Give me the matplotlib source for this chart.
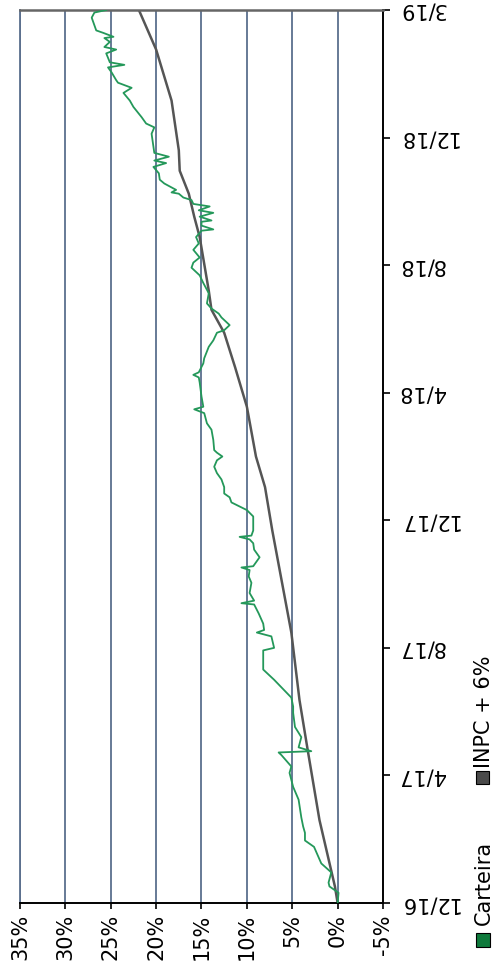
import matplotlib
matplotlib.use("Agg")
import matplotlib.pyplot as plt
from matplotlib.patches import Rectangle

# date ticks (evenly spaced on the chart)
date_labels = ['12/16', '4/17', '8/17', '12/17', '4/18', '8/18', '12/18', '3/19']
pct_ticks = [35, 30, 25, 20, 15, 10, 5, 0, -5]

# Carteira: position along the date axis (tick units) and return in %
cart_pos = [0.00, 0.08, 0.13, 0.16, 0.24, 0.31, 0.44, 0.49, 0.55, 0.60,
            0.67, 0.81, 0.91, 1.02, 1.07, 1.16, 1.18, 1.19, 1.22, 1.30,
            1.38, 1.49, 1.54, 1.61, 1.75, 1.83, 1.90, 1.98, 2.00, 2.09,
            2.12, 2.14, 2.19, 2.27, 2.34, 2.35, 2.37, 2.43, 2.51, 2.56,
            2.61, 2.63, 2.64, 2.71, 2.77, 2.82, 2.85, 2.87, 2.88, 2.92,
            3.03, 3.08, 3.14, 3.18, 3.21, 3.26, 3.32, 3.37, 3.42, 3.47,
            3.50, 3.53, 3.55, 3.63, 3.71, 3.76, 3.84, 3.87, 3.89, 3.97,
            4.08, 4.12, 4.14, 4.16, 4.23, 4.27, 4.36, 4.41, 4.47, 4.49,
            4.53, 4.59, 4.62, 4.66, 4.70, 4.78, 4.86, 4.92, 4.98, 5.02,
            5.06, 5.12, 5.17, 5.22, 5.27, 5.28, 5.31, 5.34, 5.35, 5.38,
            5.41, 5.43, 5.46, 5.48, 5.51, 5.53, 5.56, 5.57, 5.59, 5.64,
            5.67, 5.72, 5.77, 5.80, 5.82, 5.85, 5.88, 5.93, 6.03, 6.08,
            6.11, 6.16, 6.24, 6.29, 6.35, 6.39, 6.43, 6.45, 6.51, 6.55,
            6.57, 6.59, 6.66, 6.69, 6.71, 6.75, 6.78, 6.79, 6.82, 6.84,
            6.90, 6.94, 6.98, 7.00]
cart_val = [0.0, -0.1, 0.9, 1.0, 0.7, 1.8, 2.6, 3.6, 3.6, 3.8,
            4.0, 4.3, 4.9, 5.3, 5.1, 6.2, 6.5, 2.9, 4.3, 4.0,
            4.7, 4.9, 4.9, 5.1, 7.0, 8.2, 8.2, 8.2, 7.0, 7.3,
            8.9, 8.1, 8.2, 8.7, 9.2, 10.6, 9.2, 9.7, 9.5, 9.8,
            9.7, 10.6, 9.3, 8.6, 9.2, 9.3, 9.7, 10.8, 9.5, 9.3,
            9.3, 10.0, 11.7, 11.9, 12.5, 12.5, 12.8, 13.3, 13.6, 13.3,
            12.7, 13.3, 13.6, 13.7, 13.9, 14.4, 14.7, 15.8, 14.8, 15.0,
            15.2, 15.3, 15.9, 15.3, 14.8, 14.7, 14.2, 13.7, 13.3, 12.5,
            11.9, 12.8, 13.1, 13.9, 14.4, 14.2, 14.8, 15.2, 16.1, 15.9,
            15.2, 15.9, 15.3, 15.6, 15.0, 13.7, 15.0, 15.0, 13.9, 15.2,
            13.7, 15.3, 14.1, 15.9, 16.1, 17.0, 17.5, 18.3, 17.8, 19.1,
            19.6, 19.7, 20.3, 18.9, 20.2, 18.6, 20.2, 20.3, 20.5, 20.2,
            21.1, 21.6, 22.5, 22.9, 23.6, 22.7, 24.2, 24.4, 24.9, 25.3,
            23.5, 25.1, 25.5, 24.4, 25.7, 25.1, 25.7, 24.7, 25.8, 26.6,
            26.9, 27.1, 26.8, 25.5]

# INPC + 6%
inpc_pos = [0.00, 0.13, 0.65, 1.20, 1.59, 2.12, 2.92, 3.26, 3.50, 3.89, 4.20,
            4.47, 4.65, 4.80, 5.22, 5.38, 5.56, 5.74, 5.90, 6.29, 6.69, 7.00]
inpc_val = [0.0, 0.3, 2.0, 3.3, 4.2, 5.1, 7.2, 8.0, 9.0, 10.0, 11.3,
            12.5, 13.9, 14.2, 15.2, 15.8, 16.4, 17.4, 17.5, 18.3, 20.0, 21.9]

W, H = 495, 975
fig = plt.figure(figsize=(W / 100, H / 100), dpi=100)
ax = fig.add_axes([20 / W, 1 - 903 / H, 363 / W, 893 / H])

grid_col = '#5b6f8e'
for v in pct_ticks[:-1]:
    ax.axvline(v, color=grid_col, lw=1.3, zorder=0)

ax.plot(inpc_val, inpc_pos, color='#555555', lw=1.8, zorder=2)
ax.plot(cart_val, cart_pos, color='#24985a', lw=1.3, zorder=3)

ax.set_xlim(35, -5)
ax.set_ylim(0, 7)
ax.set_xticks(pct_ticks)
ax.set_xticklabels([f'{v}%' for v in pct_ticks])
ax.set_yticks(range(len(date_labels)))
ax.set_yticklabels(date_labels)
ax.yaxis.tick_right()

ax.tick_params(axis='x', direction='out', length=4, width=1.2, pad=4,
               labelsize=15, labelrotation=90)
ax.tick_params(axis='y', direction='out', length=5, width=1.2, pad=6,
               labelsize=15, labelrotation=180)
for lab in ax.get_yticklabels():
    lab.set_va('center')

for s in ['bottom', 'right']:
    ax.spines[s].set_color('black')
    ax.spines[s].set_linewidth(1.4)
ax.spines['left'].set_color(grid_col)
ax.spines['left'].set_linewidth(1.3)
ax.spines['top'].set_color('#666666')
ax.spines['top'].set_linewidth(1.8)

# legend (rotated like the rest of the chart)
fig.add_artist(Rectangle((476 / W, 1 - 947 / H), 14 / W, 14 / H,
                         transform=fig.transFigure, fc='#0f7a3c', ec='black', lw=0.8))
fig.text(484 / W, 1 - 925 / H, 'Carteira', rotation=90, ha='center', va='bottom',
         fontsize=15)
fig.add_artist(Rectangle((476 / W, 1 - 784 / H), 13 / W, 13 / H,
                         transform=fig.transFigure, fc='#4a4a4a', ec='black', lw=0.8))
fig.text(484 / W, 1 - 768 / H, 'INPC + 6%', rotation=90, ha='center', va='bottom',
         fontsize=15)

fig.savefig('out.png', dpi=100)
